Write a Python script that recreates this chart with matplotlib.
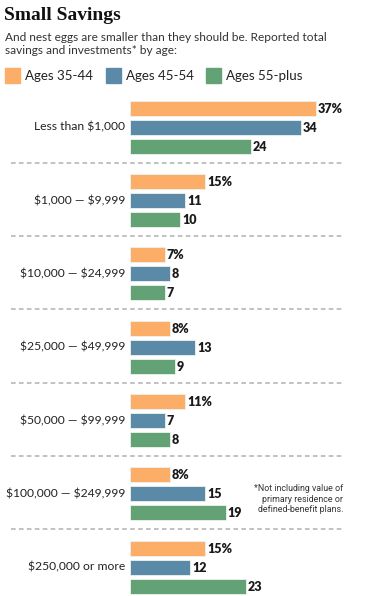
import matplotlib
matplotlib.use("Agg")
import matplotlib.pyplot as plt
from matplotlib.patches import Rectangle

plt.rcParams["text.parse_math"] = False

categories = ["Less than $1,000", "$1,000 \u2014 $9,999", "$10,000 \u2014 $24,999",
              "$25,000 \u2014 $49,999", "$50,000 \u2014 $99,999",
              "$100,000 \u2014 $249,999", "$250,000 or more"]
series_names = ["Ages 35-44", "Ages 45-54", "Ages 55-plus"]
ages_35_44 = [37, 15, 7, 8, 11, 8, 15]
ages_45_54 = [34, 11, 8, 13, 7, 15, 12]
ages_55_plus = [24, 10, 7, 9, 8, 19, 23]
colors = ["#FCAD68", "#5B8AA8", "#62A275"]

W, H = 365, 596
fig = plt.figure(figsize=(W / 100, H / 100), dpi=100)

x0, x1 = 11, 343
y0, y1 = 90, 596
ax = fig.add_axes([x0 / W, 1 - y1 / H, (x1 - x0) / W, (y1 - y0) / H])
ppu = 5.03
zero_px = 130
ax.set_xlim(-(zero_px - x0) / ppu, (x1 - zero_px) / ppu)
ax.set_ylim(y1, y0)
ax.axis("off")

group_pitch = 73.33
bar_pitch = 19
bar_h = 15
first_center = 108.2

series = [ages_35_44, ages_45_54, ages_55_plus]
for i, cat in enumerate(categories):
    for j, vals in enumerate(series):
        yc = first_center + i * group_pitch + j * bar_pitch
        ax.barh(yc, vals[i], height=bar_h, color=colors[j], edgecolor="#eef3ee",
                linewidth=0.6)
        label = f"{vals[i]}%" if j == 0 else f"{vals[i]}"
        ax.text(vals[i] + 0.35, yc + 0.5, label, ha="left", va="center",
                fontsize=9, fontweight="heavy", color="#1a1a1a", family="Lato")
    ax.text(-1.0, first_center + i * group_pitch + bar_pitch, cat, ha="right",
            va="center", fontsize=8.7, color="#222222", family="Lato")
    if i < len(categories) - 1:
        yd = 162.7 + i * group_pitch
        ax.plot([ax.get_xlim()[0], ax.get_xlim()[1]], [yd, yd], color="#b0b0b0",
                linewidth=1.1, linestyle=(0, (3.0, 2.2)), dash_capstyle="butt")

ax.text(ax.get_xlim()[1], 499, "*Not including value of\nprimary residence or\ndefined-benefit plans.",
        ha="right", va="center", fontsize=6.4, color="#333333", family="Roboto",
        linespacing=1.25)

def fx(px):
    return px / W

def fy(py):
    return 1 - py / H

fig.text(fx(4), fy(16), "Small Savings", ha="left", va="center", fontsize=14,
         fontweight="bold", family="Liberation Serif", color="#111111")
fig.text(fx(5), fy(44), "And nest eggs are smaller than they should be. Reported total\nsavings and investments* by age:",
         ha="left", va="center", fontsize=8.6, color="#333333", family="Lato",
         linespacing=1.25)

leg_x = [5, 106, 206]
for k, name in enumerate(series_names):
    fig.add_artist(Rectangle((fx(leg_x[k]), fy(83)), 15 / W, 15 / H,
                             transform=fig.transFigure, color=colors[k]))
    fig.text(fx(leg_x[k] + 20), fy(76), name, ha="left", va="center",
             fontsize=9.6, color="#222222", family="Lato")

fig.savefig("out.png", dpi=100, facecolor="white")
